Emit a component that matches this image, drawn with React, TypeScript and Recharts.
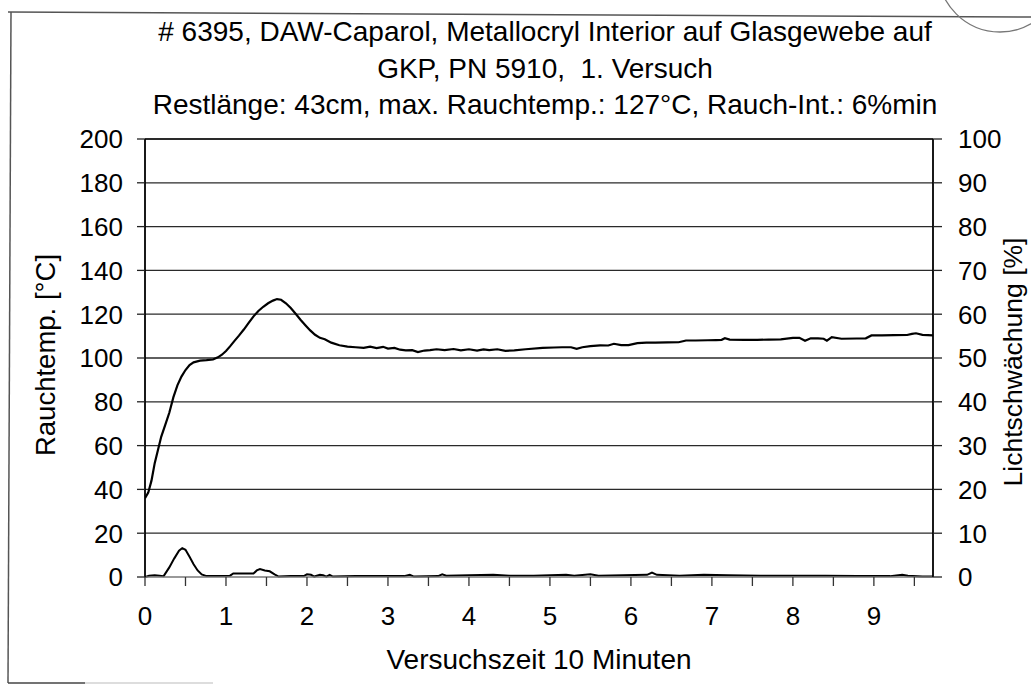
import React from 'react';
import { LineChart, Line, XAxis, YAxis, ReferenceLine } from 'recharts';

// ---- data ----
const tempTimes = [
  0, 0.04, 0.08, 0.12, 0.16, 0.2, 0.25, 0.3, 0.35, 0.4, 0.45, 0.5, 0.55, 0.6, 0.68, 0.76, 0.84, 0.9, 0.95, 1.0,
  1.05, 1.1, 1.16, 1.22, 1.28, 1.34, 1.4, 1.46, 1.52, 1.58, 1.63, 1.68, 1.74, 1.8, 1.86, 1.92, 1.98, 2.04, 2.1, 2.16,
  2.22, 2.3, 2.4, 2.5, 2.6, 2.7, 2.78, 2.86, 2.94, 3.0, 3.08, 3.15, 3.22, 3.3, 3.37, 3.45, 3.52, 3.6, 3.7, 3.81,
  3.9, 4.0, 4.1, 4.18, 4.25, 4.35, 4.45, 4.56, 4.7, 4.91, 5.05, 5.15, 5.26, 5.33, 5.4, 5.5, 5.62, 5.72, 5.79, 5.88,
  5.97, 6.08, 6.19, 6.3, 6.45, 6.59, 6.68, 6.8, 6.95, 7.05, 7.12, 7.16, 7.22, 7.4, 7.56, 7.7, 7.85, 8.0, 8.08, 8.15,
  8.22, 8.31, 8.38, 8.42, 8.48, 8.6, 8.79, 8.9, 8.97, 9.1, 9.25, 9.41, 9.47, 9.52, 9.6, 9.73,
];
const tempValues = [
  36, 38.5, 44, 52, 58, 64, 69.5, 75, 82, 87.5, 91.5, 94.5, 96.8, 98, 98.8, 99, 99.3, 100.3, 101.5, 103.2,
  105.3, 107.6, 110.2, 113, 116, 119, 121.5, 123.4, 125, 126.2, 126.9, 126.6, 125, 122.8, 120.2, 117.5, 115, 112.6, 110.6, 109.2,
  108.6, 107, 105.8, 105.2, 104.9, 104.6, 105.2, 104.5, 105.1, 104.3, 104.6, 103.8, 103.5, 103.6, 102.7, 103.4, 103.6, 104.0, 103.6, 104.1,
  103.5, 104.0, 103.4, 103.9, 103.6, 104.0, 103.3, 103.5, 104.0, 104.6, 104.8, 104.9, 104.9, 104.2, 104.9, 105.4, 105.8, 105.7, 106.5, 105.9,
  105.9, 106.8, 107, 107, 107.1, 107.2, 108, 108, 108.1, 108.2, 108.3, 109, 108.4, 108.3, 108.3, 108.4, 108.5, 109.2, 109.2, 107.9,
  109, 109, 108.8, 107.9, 109.5, 108.8, 108.9, 109, 110.3, 110.3, 110.4, 110.5, 111, 111.3, 110.6, 110.3,
];
const smokeTimes = [
  0, 0.05, 0.12, 0.18, 0.23, 0.3, 0.36, 0.42, 0.46, 0.5, 0.55, 0.6, 0.65, 0.7, 0.76, 0.9, 1.05, 1.09, 1.2, 1.34,
  1.38, 1.42, 1.48, 1.54, 1.6, 1.65, 1.8, 1.96, 2.0, 2.05, 2.09, 2.16, 2.2, 2.24, 2.28, 2.32, 2.6, 2.9, 3.2, 3.27,
  3.32, 3.62, 3.67, 3.72, 4.0, 4.3, 4.5, 4.8, 5.2, 5.3, 5.5, 5.6, 5.9, 6.2, 6.26, 6.32, 6.6, 6.9, 7.2, 7.6,
  8.0, 8.4, 8.8, 9.2, 9.35, 9.42, 9.6, 9.73,
];
const smokeValues = [
  0, 0.3, 0.4, 0.3, 0.2, 2.2, 4.2, 6.0, 6.6, 6.2, 4.6, 2.9, 1.5, 0.6, 0.2, 0.2, 0.3, 0.8, 0.8, 0.8,
  1.5, 1.8, 1.5, 1.3, 0.6, 0.1, 0.2, 0.2, 0.6, 0.5, 0.1, 0.5, 0.4, 0.1, 0.5, 0.1, 0.2, 0.2, 0.2, 0.5,
  0.1, 0.2, 0.6, 0.3, 0.4, 0.5, 0.3, 0.3, 0.5, 0.3, 0.6, 0.3, 0.4, 0.5, 1.0, 0.5, 0.3, 0.5, 0.4, 0.3,
  0.3, 0.3, 0.2, 0.2, 0.5, 0.3, 0.1, 0.1,
];
const xTicks = [0, 0.5, 1, 1.5, 2, 2.5, 3, 3.5, 4, 4.5, 5, 5.5, 6, 6.5, 7, 7.5, 8, 8.5, 9, 9.5];
const leftTicks = [0, 20, 40, 60, 80, 100, 120, 140, 160, 180, 200];
const rightTicks = [0, 10, 20, 30, 40, 50, 60, 70, 80, 90, 100];
const gridValues = [20, 40, 60, 80, 100, 120, 140, 160, 180, 200];
const titleLines = [
  '# 6395, DAW-Caparol, Metallocryl Interior auf Glasgewebe auf',
  'GKP, PN 5910,  1. Versuch',
  'Restlänge: 43cm, max. Rauchtemp.: 127°C, Rauch-Int.: 6%min',
];
const xTitle = 'Versuchszeit 10 Minuten';
const leftTitle = 'Rauchtemp. [°C]';
const rightTitle = 'Lichtschwächung [%]';

const tempData = tempTimes.map((t, i) => ({ t, v: tempValues[i] }));
const smokeData = smokeTimes.map((t, i) => ({ t, v: smokeValues[i] }));

const FONT = '"Liberation Sans", Arial, Helvetica, sans-serif';
const W = 1031;
const H = 684;

const XTick = (props: any) => {
  const { x, y, payload } = props;
  if (!Number.isInteger(payload.value)) return <g />;
  return (
    <text x={x} y={y} dy="0.72em" textAnchor="middle" fontSize={26} fontFamily={FONT} fill="#000">
      {payload.value}
    </text>
  );
};
const LTick = (props: any) => {
  const { x, y, payload } = props;
  return (
    <text x={x} y={y} dy="0.36em" textAnchor="end" fontSize={26} fontFamily={FONT} fill="#000">
      {payload.value}
    </text>
  );
};
const RTick = (props: any) => {
  const { x, y, payload } = props;
  return (
    <text x={x} y={y} dy="0.36em" textAnchor="start" fontSize={26} fontFamily={FONT} fill="#000">
      {payload.value}
    </text>
  );
};

export default function App() {
  return (
    <div style={{ position: 'absolute', left: 0, top: 0, width: W, height: H, background: '#fff' }}>
      <LineChart width={W} height={H} margin={{ top: 139, right: 0, bottom: 47, left: 0 }}>
        <XAxis
          type="number"
          dataKey="t"
          domain={[0, 9.73]}
          allowDataOverflow
          ticks={xTicks}
          interval={0}
          height={60}
          tickSize={9}
          tickMargin={20}
          axisLine={{ stroke: '#777', strokeWidth: 1.5 }}
          tickLine={{ stroke: '#333', strokeWidth: 1.3 }}
          tick={(p: any) => <XTick {...p} />}
        />
        <YAxis
          yAxisId="left"
          domain={[0, 200]}
          ticks={leftTicks}
          interval={0}
          width={145}
          tickSize={8}
          tickMargin={14}
          axisLine={{ stroke: '#000', strokeWidth: 1.8 }}
          tickLine={{ stroke: '#222', strokeWidth: 1.3 }}
          tick={(p: any) => <LTick {...p} />}
        />
        <YAxis
          yAxisId="right"
          orientation="right"
          domain={[0, 100]}
          ticks={rightTicks}
          interval={0}
          width={98}
          tickSize={9}
          tickMargin={16}
          axisLine={{ stroke: '#000', strokeWidth: 1.8 }}
          tickLine={{ stroke: '#222', strokeWidth: 1.3 }}
          tick={(p: any) => <RTick {...p} />}
        />
        {gridValues.map((v) => (
          <ReferenceLine key={v} yAxisId="left" y={v} stroke="#2a2a2a" strokeWidth={v === 200 ? 1.8 : 1.3} ifOverflow="extendDomain" />
        ))}
        <Line
          yAxisId="left"
          data={tempData}
          dataKey="v"
          type="linear"
          dot={false}
          stroke="#000"
          strokeWidth={2.2}
          isAnimationActive={false}
        />
        <Line
          yAxisId="right"
          data={smokeData}
          dataKey="v"
          type="linear"
          dot={false}
          stroke="#000"
          strokeWidth={2}
          isAnimationActive={false}
        />
      </LineChart>
      <svg
        width={W}
        height={H}
        style={{ position: 'absolute', left: 0, top: 0, pointerEvents: 'none' }}
      >
        {/* page frame */}
        <line x1={8} y1={12} x2={W} y2={17} stroke="#555" strokeWidth={1.5} />
        <line x1={11} y1={12} x2={8} y2={683} stroke="#555" strokeWidth={1.5} />
        <line x1={8} y1={683} x2={85} y2={683} stroke="#444" strokeWidth={1.5} />
        <line x1={85} y1={683} x2={213} y2={683} stroke="#bbb" strokeWidth={1.2} />
        {/* stamp fragment */}
        <circle cx={1000} cy={-30} r={62} fill="none" stroke="#777" strokeWidth={1.3} />
        {titleLines.map((s, i) => (
          <text
            key={i}
            x={545}
            y={41 + i * 36.5}
            textAnchor="middle"
            fontSize={28}
            fontFamily={FONT}
            fill="#000"
            style={{ whiteSpace: 'pre' }}
          >
            {s}
          </text>
        ))}
        <text x={539} y={669} textAnchor="middle" fontSize={28} fontFamily={FONT} fill="#000">
          {xTitle}
        </text>
        <text
          x={0}
          y={0}
          transform="translate(55,355) rotate(-90)"
          textAnchor="middle"
          fontSize={27.5}
          fontFamily={FONT}
          fill="#000"
        >
          {leftTitle}
        </text>
        <text
          x={0}
          y={0}
          transform="translate(1022,362) rotate(-90)"
          textAnchor="middle"
          fontSize={26.5}
          fontFamily={FONT}
          fill="#000"
        >
          {rightTitle}
        </text>
      </svg>
    </div>
  );
}
